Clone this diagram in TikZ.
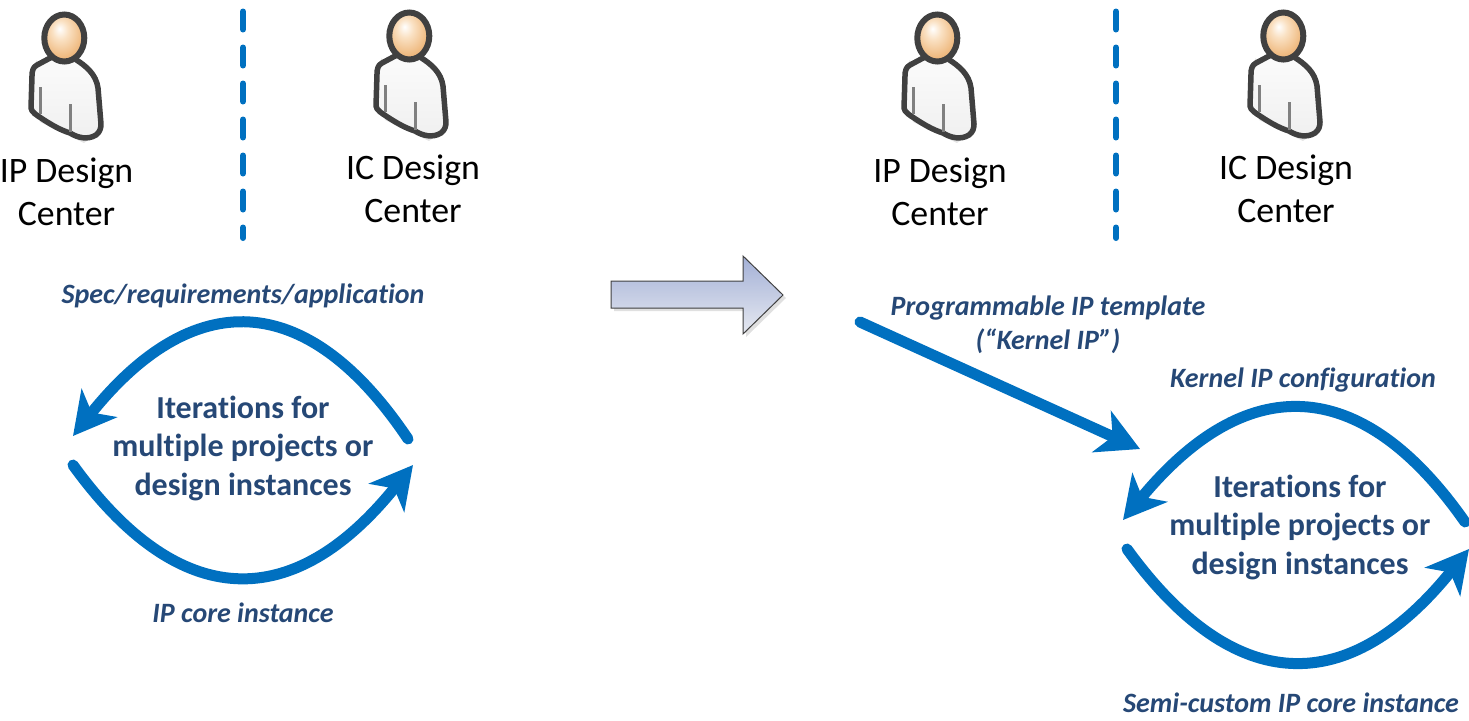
\documentclass[tikz,border=0pt]{standalone}
\usepackage{fontspec}
\setmainfont[Ligatures=CommonOff]{Carlito}
\usetikzlibrary{arrows.meta}
\definecolor{flow}{RGB}{0,112,192}
\definecolor{lab}{RGB}{38,72,118}
\definecolor{outl}{RGB}{64,64,64}
\definecolor{skina}{RGB}{250,225,195}
\definecolor{skinb}{RGB}{240,190,135}
\definecolor{skinc}{RGB}{222,145,75}
\definecolor{arrtop}{RGB}{163,176,214}
\definecolor{arrbot}{RGB}{230,233,241}
\newcommand\nolig{\kern0pt }
\pgfdeclareradialshading{skin}{\pgfpoint{-6bp}{10bp}}{color(0bp)=(white);color(10bp)=(skina);color(24bp)=(skinb);color(42bp)=(skinc);color(60bp)=(skinc)}
\tikzset{
  person/.pic={
    \fill[black!10] (36,60) -- (102,130) -- (84,143) -- (40,122) -- cycle;
    \path[draw=outl,line width=5.5,line join=round,top color=white!97!gray,bottom color=black!6]
      (52,57) -- (37,65) .. controls (33,67) and (32,71) .. (32,76)
      -- (31,108) .. controls (31,112) and (38,116) .. (41,118)
      .. controls (50,124) and (60,130) .. (70,133)
      .. controls (78,138) and (88,140) .. (96,135)
      .. controls (100,132) and (101,128) .. (101,124)
      -- (98,88) .. controls (96,74) and (86,66) .. (75,59) -- cycle;
    \fill[black!14] (53,60) .. controls (60,66) and (70,66) .. (76,60) -- (70,56) -- (58,56) -- cycle;
    \draw[black!50,line width=2.5] (40.5,87) -- (40.5,114);
    \draw[black!50,line width=2.5] (70.5,104) -- (70.5,132);
    \path[draw=outl,line width=6,shading=skin] (64.3,38) ellipse [x radius=20,y radius=23.5];
  },
  flowline/.style={draw=flow,line width=11,line cap=round,-{Stealth[length=42,width=45,inset=12]}},
  dashsep/.style={draw=flow,line width=6,line cap=round,dash pattern=on 18 off 18},
  rolelabel/.style={align=center,font=\fontsize{35.8}{43}\selectfont,text=black,inner sep=0},
  flowlabel/.style={font=\fontsize{28}{34}\selectfont\bfseries\itshape,text=lab,align=center,inner sep=0},
  looplabel/.style={font=\fontsize{32}{38.5}\selectfont\bfseries,text=lab,align=center,inner sep=0},
}
\begin{document}
\begin{tikzpicture}[x=1pt,y=-1pt]
\useasboundingbox (0,0) rectangle (1469,720);
% persons
\pic at (0,0) {person};
\pic at (345,-2) {person};
\pic at (873,0) {person};
\pic at (1219,-2) {person};
\node[rolelabel] (ip1) at (66.5,191.5) {IP Design\\Center};
\node[rolelabel] (ic1) at (413,188.5) {IC Design\\Center};
\node[rolelabel] (ip2) at (940,191.5) {IP Design\\Center};
\node[rolelabel] (ic2) at (1286,188.5) {IC Design\\Center};
% separators
\coordinate (s1a) at (243,11.5); \coordinate (s1b) at (243,238);
\coordinate (s2a) at (1116,11.5); \coordinate (s2b) at (1116,238);
\draw[dashsep] (s1a) -- (s1b);
\draw[dashsep] (s2a) -- (s2b);
% block arrow
\fill[black!12] (614,284) -- (746,284) -- (746,259) -- (786,298) -- (746,337) -- (746,311) -- (614,311) -- cycle;
\path[draw=outl,line width=1,top color=arrtop,bottom color=arrbot]
  (611,281) -- (743,281) -- (743,256) -- (783,295) -- (743,334) -- (743,308) -- (611,308) -- cycle;
% left loop
\coordinate (la) at (408,439); \coordinate (lb) at (73,436);
\coordinate (lc) at (73,465); \coordinate (ld) at (413,465);
\draw[flowline] (la) .. controls (306,287) and (192,287) .. (lb);
\draw[flowline] (lc) .. controls (180,613) and (294,613) .. (ld);
\node[looplabel] (loop1) at (243,448) {Iterat\nolig ions for\\multiple projects or\\design instances};
\node[flowlabel] (f1) at (243,296) {Spec/requirements/applicat\nolig ion};
\node[flowlabel] (f2) at (243,613) {IP core instance};
% right side
\coordinate (ka) at (860,322); \coordinate (kb) at (1140,449);
\draw[flowline] (ka) -- (kb);
\node[flowlabel] (f3) at (1048,325) {Programmable IP template\\(“Kernel IP”)};
\coordinate (ra) at (1465,522); \coordinate (rb) at (1123,520);
\coordinate (rc) at (1127,549); \coordinate (rd) at (1469,549);
\draw[flowline] (ra) .. controls (1360,372) and (1245,372) .. (rb);
\draw[flowline] (rc) .. controls (1235,698) and (1349,698) .. (rd);
\node[looplabel] (loop2) at (1300,527) {Iterat\nolig ions for\\multiple projects or\\design instances};
\node[flowlabel] (f4) at (1303,380) {Kernel IP conf\nolig igurat\nolig ion};
\node[flowlabel] (f5) at (1291,703) {Semi-custom IP core instance};
\end{tikzpicture}
\end{document}
